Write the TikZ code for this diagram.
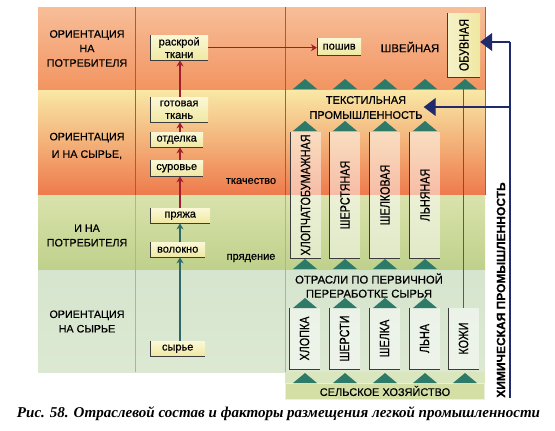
\documentclass[tikz,border=0pt]{standalone}
\usepackage{fontspec}
\setmainfont{Liberation Sans}[FakeBold=0.5]
\newfontfamily\capfont{Liberation Serif}
\usetikzlibrary{arrows.meta}
\definecolor{bandA1}{HTML}{F7BE98}
\definecolor{bandA2}{HTML}{F29460}
\definecolor{bandB1}{HTML}{F9E8A6}
\definecolor{bandBm}{HTML}{F4B277}
\definecolor{bandB2}{HTML}{EE7A4C}
\definecolor{bandC1}{HTML}{D9E3AC}
\definecolor{bandC2}{HTML}{BFD08B}
\definecolor{bandD1}{HTML}{D6E5CF}
\definecolor{bandD2}{HTML}{DCE8D2}
\definecolor{bandE}{HTML}{DAE7BE}
\definecolor{boxA}{HTML}{FBF8D6}
\definecolor{boxB}{HTML}{EFE8A2}
\definecolor{tricol}{HTML}{2E7A68}
\definecolor{chainred}{HTML}{A01E2E}
\definecolor{tipred}{HTML}{D0283A}
\definecolor{chainteal}{HTML}{2D6868}
\definecolor{navy}{HTML}{1E2A6C}
\definecolor{edgecol}{HTML}{3C3C3C}
\definecolor{divred}{HTML}{D8443C}
\definecolor{divgreen}{HTML}{A7B893}
\definecolor{kline}{HTML}{3E6A5A}
\newcommand\vtext[1]{\rotatebox{90}{\scalebox{0.8}[1]{\fontsize{13.5}{14}\selectfont #1}}}
\newcommand\tri[2]{\fill[tricol] (#1,#2) ++(-12,0) -- ++(24,0) -- ++(-12,-10) -- cycle;}
\begin{document}
\begin{tikzpicture}[x=1pt,y=-1pt,
  lab/.style={align=center,font=\fontsize{10.75}{14.5}\selectfont,inner sep=0},
  txt/.style={font=\fontsize{11}{13}\selectfont,inner sep=1},
  pbox/.style={anchor=north west,inner sep=0,top color=boxA,bottom color=boxB,align=center,
     font=\fontsize{11}{12.5}\selectfont},
  vbox/.style={inner sep=0,minimum width=30,fill=white,fill opacity=0.5,text opacity=1},
  ledge/.style={draw=edgecol,line width=0.8},
  redarr/.style={draw=chainred,line width=1.6,-{Stealth[length=6pt,width=7pt,fill=tipred]}},
  tealarr/.style={draw=chainteal,line width=1.6,-{Stealth[length=6pt,width=7pt,fill=chainteal!70!white]}},
  bluel/.style={draw=navy,line width=1.3},
  bluearr/.style={draw=navy,line width=1.3,-{Triangle[length=12pt,width=18pt]}}]
\useasboundingbox (0,0) rectangle (555,431);
\fill[white] (0,0) rectangle (555,431);
% background bands
\shade[top color=bandA1,bottom color=bandA2] (38,7) rectangle (485,90);
\shade[top color=bandB1,middle color=bandBm,bottom color=bandB2] (38,90) rectangle (485,195);
\shade[top color=bandC1,bottom color=bandC2] (38,195) rectangle (485,270);
\shade[top color=bandD1,bottom color=bandD2] (38,270) rectangle (485,372);
\fill[bandE] (285,372) rectangle (485,400);
% dividers
\draw[divred,line width=0.6] (135,7) -- (135,195) (285,7) -- (285,195) (485,7) -- (485,195);
\draw[divgreen,line width=0.6] (135,195) -- (135,372) (285,195) -- (285,372);
% left labels
\node[lab] (l1) at (87,48.5) {ОРИЕНТАЦИЯ\\НА\\ПОТРЕБИТЕЛЯ};
\node[lab,font=\fontsize{10.75}{17.5}\selectfont] (l2) at (87,146) {ОРИЕНТАЦИЯ\\И НА СЫРЬЕ,};
\node[lab] (l3) at (87,235.5) {И НА\\ПОТРЕБИТЕЛЯ};
\node[lab] (l4) at (87,321.5) {ОРИЕНТАЦИЯ\\НА СЫРЬЕ};
% process chain
\coordinate (chx) at (180,0);
\node[pbox,minimum width=58,minimum height=25] (raskroy) at (150,35) {раскрой\\ткани};
\node[pbox,minimum width=58,minimum height=25] (gotov) at (150,97) {готовая\\ткань};
\node[pbox,minimum width=53,minimum height=15] (otdel) at (150,132) {отделка};
\node[pbox,minimum width=53,minimum height=16] (surov) at (150,160) {суровье};
\node[pbox,minimum width=60,minimum height=15] (pryazha) at (150,208) {пряжа};
\node[pbox,minimum width=55,minimum height=15] (volokno) at (150,242) {волокно};
\node[pbox,minimum width=55,minimum height=15] (syrye) at (150,341) {сырье};
\node[pbox,minimum width=44,minimum height=17] (poshiv) at (317,38) {пошив};
\foreach \n in {raskroy,gotov,otdel,surov,pryazha,volokno,syrye,poshiv}
  \draw[ledge] (\n.north west) |- (\n.south east);
\draw[tealarr] (syrye.north -| chx) -- (volokno.south -| chx);
\draw[tealarr] (volokno.north -| chx) -- (pryazha.south -| chx);
\draw[redarr] (pryazha.north -| chx) -- (surov.south -| chx);
\draw[redarr] (surov.north -| chx) -- (otdel.south -| chx);
\draw[redarr] (otdel.north -| chx) -- (gotov.south -| chx);
\draw[redarr] (gotov.north -| chx) -- (raskroy.south -| chx);
\draw[redarr,line width=1.2] (raskroy.east) -- (raskroy.east -| poshiv.west);
\node[txt] (tkach) at (251,181) {ткачество};
\node[txt] (pryad) at (251,258) {прядение};
% right column texts
\node[txt,font=\fontsize{11.5}{13}\selectfont] (shv) at (410,47) {ШВЕЙНАЯ};
\node[txt,align=center,font=\fontsize{11}{15}\selectfont] (tekst) at (366,107.5) {ТЕКСТИЛЬНАЯ\\ПРОМЫШЛЕННОСТЬ};
\node[txt,align=center,font=\fontsize{11.3}{14}\selectfont] (otr) at (369,285.5) {ОТРАСЛИ ПО ПЕРВИЧНОЙ\\ПЕРЕРАБОТКЕ СЫРЬЯ};
% vertical boxes
\node[inner sep=0,minimum width=32,minimum height=64,left color=boxB!60!white,right color=boxB] (obuv) at (464,45) {\vtext{ОБУВНАЯ}};
\node[vbox,minimum height=126] (hb) at (305.5,195) {\vtext{ХЛОПЧАТОБУМАЖНАЯ}};
\node[vbox,minimum height=126] (sh) at (345,195) {\vtext{ШЕРСТЯНАЯ}};
\node[vbox,minimum height=126] (shk) at (385,195) {\vtext{ШЕЛКОВАЯ}};
\node[vbox,minimum height=126] (ln) at (425,195) {\vtext{ЛЬНЯНАЯ}};
\node[vbox,minimum height=61] (hl) at (304.5,338.5) {\vtext{ХЛОПКА}};
\node[vbox,minimum height=61] (sr) at (344.5,338.5) {\vtext{ШЕРСТИ}};
\node[vbox,minimum height=61] (sl) at (384.5,338.5) {\vtext{ШЕЛКА}};
\node[vbox,minimum height=61] (lna) at (424.5,338.5) {\vtext{ЛЬНА}};
\node[vbox,minimum height=61] (kozhi) at (463.5,338.5) {\vtext{КОЖИ}};
\foreach \n in {obuv,hb,sh,shk,ln,hl,sr,sl,lna,kozhi}
  \draw[ledge] (\n.north west) |- (\n.south east);
\node[inner sep=0,minimum width=199,minimum height=16,fill=bandC1!80!bandC2,draw=white!70!bandC2,line width=0.6,font=\fontsize{11}{13}\selectfont] (selh) at (385,391) {СЕЛЬСКОЕ ХОЗЯЙСТВО};
% leather line
\coordinate (ktop) at (463.5,89);
\draw[kline,line width=1.1] (kozhi.north) -- (ktop);
% triangles
\foreach \x in {305,345,385,425,465} {\tri{\x}{89}\tri{\x}{383}}
\foreach \x in {305,345,385,425} {\tri{\x}{131}\tri{\x}{269}\tri{\x}{308}}
% chemical industry
\coordinate (b0) at (510,398);
\coordinate (b1) at (510,42);
\coordinate (b2) at (510,107);
\draw[bluel] (b0) -- (b1);
\draw[bluearr] (b1) -- (obuv.east |- b1);
\draw[bluearr] (b2) -- (tekst.east |- b2);
\node[rotate=90,inner sep=0,font=\fontsize{12}{14}\selectfont\bfseries] (chem) at (501,290) {ХИМИЧЕСКАЯ ПРОМЫШЛЕННОСТЬ};
% caption
\node[inner sep=0] (cap) at (278.5,414) {\resizebox{523pt}{!}{\capfont\bfseries\itshape\fontsize{14}{16}\selectfont Рис. 58. Отраслевой состав и факторы размещения легкой промышленности}};
\end{tikzpicture}
\end{document}
